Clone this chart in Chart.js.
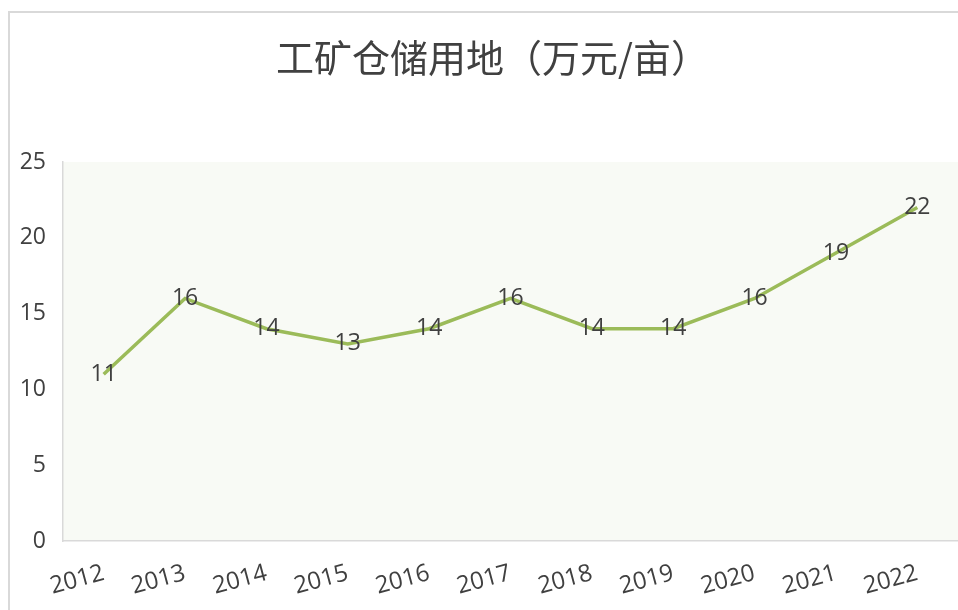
<!DOCTYPE html>
<html>
<head>
<meta charset="utf-8">
<script src="https://cdn.jsdelivr.net/npm/chart.js@4"></script>
<style>
  html, body { margin: 0; padding: 0; background: #ffffff; }
  #wrap { position: relative; width: 958px; height: 610px; }
  #frame { position: absolute; left: 8px; top: 11px; width: 960px; height: 610px;
           border-top: 2px solid #d9d9d9; border-left: 2px solid #d9d9d9; box-sizing: border-box; }
  canvas { position: absolute; left: 0; top: 0; }
</style>
</head>
<body>
<div id="wrap">
  <div id="frame"></div>
  <canvas id="c" width="958" height="610"></canvas>
</div>
<script>
const titleText = '工矿仓储用地（万元/亩）';
const years = ['2012','2013','2014','2015','2016','2017','2018','2019','2020','2021','2022'];
const values = [11, 16, 14, 13, 14, 16, 14, 14, 16, 19, 22];
const yTicks = [0, 5, 10, 15, 20, 25];

const textColor = '#404040';
const numFont = "'Open Sans', 'Noto Sans', sans-serif";

const plotBg = {
  id: 'plotBg',
  beforeDraw(chart) {
    const a = chart.chartArea, ctx = chart.ctx;
    ctx.save();
    ctx.fillStyle = '#f8faf5';
    ctx.fillRect(a.left, a.top, a.right - a.left, a.bottom - a.top);
    ctx.restore();
  }
};

const titleDraw = {
  id: 'titleDraw',
  afterDraw(chart) {
    const ctx = chart.ctx;
    ctx.save();
    ctx.font = "38px 'Noto Sans CJK SC', sans-serif";
    ctx.fillStyle = textColor;
    ctx.textAlign = 'left';
    ctx.textBaseline = 'middle';
    const m = ctx.measureText(titleText);
    const left = -m.actualBoundingBoxLeft;
    const right = m.actualBoundingBoxRight;
    const x0 = 480 - (left + right) / 2;
    ctx.fillText(titleText, x0, 58);
    ctx.restore();
  }
};

const valueLabels = {
  id: 'valueLabels',
  afterDatasetsDraw(chart) {
    const ctx = chart.ctx;
    const meta = chart.getDatasetMeta(0);
    const data = chart.data.datasets[0].data;
    ctx.save();
    ctx.font = "23px " + numFont;
    ctx.fillStyle = textColor;
    ctx.textAlign = 'center';
    ctx.textBaseline = 'middle';
    meta.data.forEach((pt, i) => {
      ctx.fillText(String(data[i]), pt.x, pt.y);
    });
    ctx.restore();
  }
};

new Chart(document.getElementById('c'), {
  type: 'line',
  data: {
    labels: years,
    datasets: [{
      data: values,
      borderColor: '#9bbb59',
      borderWidth: 3.5,
      pointRadius: 0,
      tension: 0,
      fill: false
    }]
  },
  options: {
    responsive: false,
    animation: false,
    layout: { padding: { left: 0, right: 0, top: 162, bottom: 0 } },
    plugins: {
      legend: { display: false },
      tooltip: { enabled: false },
      title: { display: false }
    },
    scales: {
      x: {
        offset: true,
        grid: { display: false, drawTicks: false },
        border: { display: true, color: '#d9d9d9', width: 1.5 },
        ticks: {
          color: textColor,
          font: { family: numFont, size: 24 },
          minRotation: 15,
          maxRotation: 15,
          padding: 18
        },
        afterFit(s) { s.height = 69; }
      },
      y: {
        min: 0,
        max: 25,
        grid: { display: false, drawTicks: false },
        border: { display: true, color: '#d9d9d9', width: 1.5 },
        afterBuildTicks(s) { s.ticks = yTicks.map(v => ({ value: v })); },
        ticks: {
          color: textColor,
          font: { family: numFont, size: 23 },
          padding: 17
        },
        afterFit(s) { s.width = 63; }
      }
    }
  },
  plugins: [plotBg, valueLabels, titleDraw]
});
</script>
</body>
</html>
